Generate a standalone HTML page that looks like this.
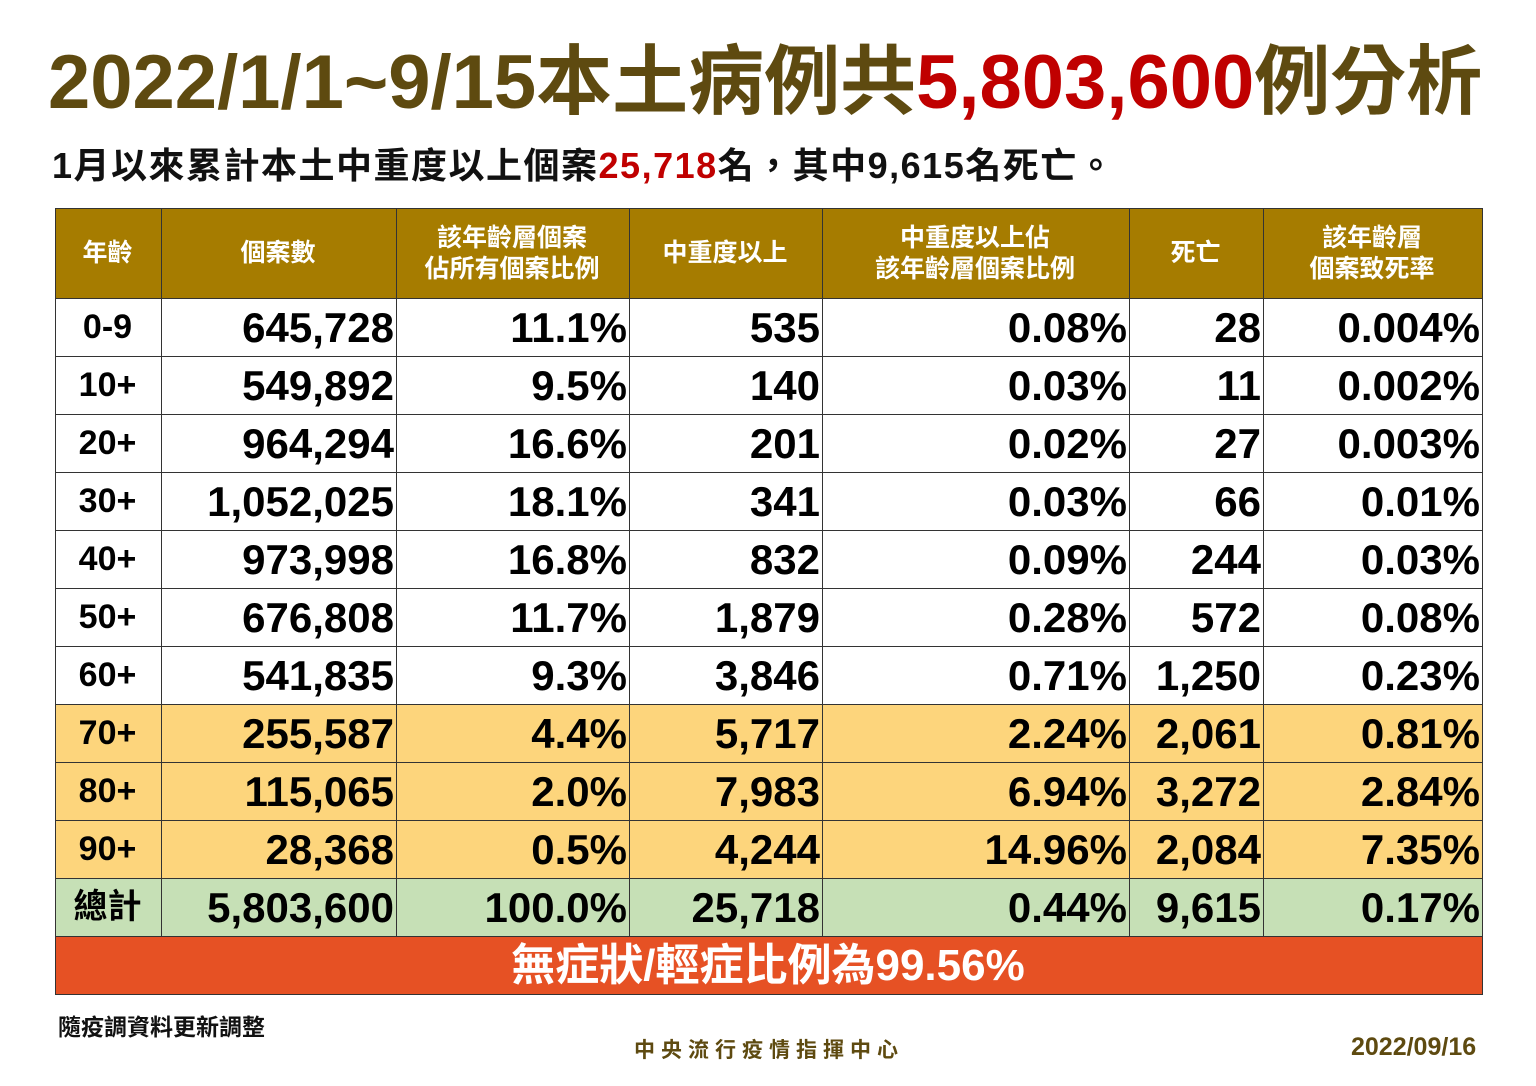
<!DOCTYPE html>
<html><head><meta charset="utf-8"><style>
body{margin:0;width:1536px;height:1086px;background:#fff;position:relative;overflow:hidden;font-family:"Liberation Sans","Noto Sans CJK TC",sans-serif;}
.t{position:absolute;white-space:nowrap;font-weight:bold;}
table{position:absolute;left:55px;top:208px;border-collapse:collapse;table-layout:fixed;width:1427px;}
td{border:1.5px solid #333;font-weight:bold;padding:0 2px 0 0;font-size:42px;text-align:right;height:57px;line-height:57px;color:#000;}
td:first-child{text-align:center;font-size:34px;}
tr.h td{background:#a67c00;color:#fff;text-align:center;font-size:25px;line-height:31px;height:89px;}
tr.y td{background:#fdd57c;}
tr.g td{background:#c6e0b6;}
tr.o td{background:#e65124;color:#fff;text-align:center;font-size:44px;}
</style></head><body>
<div class="t" style="left:48px;top:28px;font-size:76px;color:#5e4a10;line-height:110px;">2022/1/1~9/15本土病例共<span style="color:#c00000">5,803,600</span>例分析</div>
<div class="t" style="left:52px;top:143px;font-size:36px;letter-spacing:1.5px;line-height:46px;color:#111;">1月以來累計本土中重度以上個案<span style="color:#c00000">25,718</span>名，其中9,615名死亡。</div>
<table>
<colgroup><col style="width:106px"><col style="width:235px"><col style="width:233px"><col style="width:193px"><col style="width:307px"><col style="width:134px"><col style="width:219px"></colgroup>
<tr class="h"><td>年齡</td><td>個案數</td><td>該年齡層個案<br>佔所有個案比例</td><td>中重度以上</td><td>中重度以上佔<br>該年齡層個案比例</td><td>死亡</td><td>該年齡層<br>個案致死率</td></tr>
<tr><td>0-9</td><td>645,728</td><td>11.1%</td><td>535</td><td>0.08%</td><td>28</td><td>0.004%</td></tr>
<tr><td>10+</td><td>549,892</td><td>9.5%</td><td>140</td><td>0.03%</td><td>11</td><td>0.002%</td></tr>
<tr><td>20+</td><td>964,294</td><td>16.6%</td><td>201</td><td>0.02%</td><td>27</td><td>0.003%</td></tr>
<tr><td>30+</td><td>1,052,025</td><td>18.1%</td><td>341</td><td>0.03%</td><td>66</td><td>0.01%</td></tr>
<tr><td>40+</td><td>973,998</td><td>16.8%</td><td>832</td><td>0.09%</td><td>244</td><td>0.03%</td></tr>
<tr><td>50+</td><td>676,808</td><td>11.7%</td><td>1,879</td><td>0.28%</td><td>572</td><td>0.08%</td></tr>
<tr><td>60+</td><td>541,835</td><td>9.3%</td><td>3,846</td><td>0.71%</td><td>1,250</td><td>0.23%</td></tr>
<tr class="y"><td>70+</td><td>255,587</td><td>4.4%</td><td>5,717</td><td>2.24%</td><td>2,061</td><td>0.81%</td></tr>
<tr class="y"><td>80+</td><td>115,065</td><td>2.0%</td><td>7,983</td><td>6.94%</td><td>3,272</td><td>2.84%</td></tr>
<tr class="y"><td>90+</td><td>28,368</td><td>0.5%</td><td>4,244</td><td>14.96%</td><td>2,084</td><td>7.35%</td></tr>
<tr class="g"><td>總計</td><td>5,803,600</td><td>100.0%</td><td>25,718</td><td>0.44%</td><td>9,615</td><td>0.17%</td></tr>
<tr class="o"><td colspan="7">無症狀/輕症比例為99.56%</td></tr>
</table>
<div class="t" style="left:58px;top:1008px;font-size:23px;color:#111;">隨疫調資料更新調整</div>
<div class="t" style="left:634px;top:1034px;font-size:21px;color:#5e4a10;letter-spacing:6px;">中央流行疫情指揮中心</div>
<div class="t" style="left:1351px;top:1033px;font-size:25px;color:#5e4a10;">2022/09/16</div>
</body></html>
